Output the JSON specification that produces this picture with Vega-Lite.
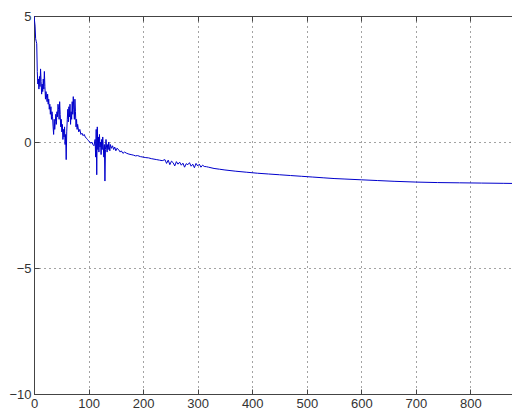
{
  "$schema": "https://vega.github.io/schema/vega-lite/v6.json",
  "autosize": {"type": "none"},
  "padding": {"left": 34, "top": 16, "right": 0, "bottom": 20},
  "width": 491,
  "height": 378,
  "background": "white",
  "config": {
    "view": {"stroke": "#555555", "strokeWidth": 1},
    "axis": {
      "labelFont": "Liberation Sans",
      "labelFontSize": 13,
      "labelColor": "#333333",
      "domainColor": "#444444",
      "tickColor": "#444444",
      "tickSize": -5,
      "gridColor": "#333333",
      "gridDash": [1, 4],
      "gridOpacity": 0.9,
      "title": null
    }
  },
  "data": {
    "values": [
      {"x": 0, "y": 5.0}, {"x": 2, "y": 4.6}, {"x": 3, "y": 4.1}, {"x": 4, "y": 4.0}, {"x": 5, "y": 3.9},
      {"x": 6, "y": 2.8}, {"x": 7, "y": 2.3}, {"x": 8, "y": 2.5}, {"x": 9, "y": 2.1}, {"x": 10, "y": 2.6},
      {"x": 11, "y": 2.2}, {"x": 12, "y": 2.9}, {"x": 13, "y": 2.4}, {"x": 14, "y": 1.9}, {"x": 15, "y": 2.3},
      {"x": 16, "y": 2.0}, {"x": 17, "y": 2.5}, {"x": 18, "y": 2.1}, {"x": 19, "y": 2.8}, {"x": 20, "y": 2.2},
      {"x": 21, "y": 1.7}, {"x": 22, "y": 2.0}, {"x": 24, "y": 1.6}, {"x": 25, "y": 1.9}, {"x": 26, "y": 1.5},
      {"x": 27, "y": 1.7}, {"x": 28, "y": 1.3}, {"x": 29, "y": 1.5}, {"x": 30, "y": 1.1}, {"x": 31, "y": 1.4},
      {"x": 32, "y": 0.9}, {"x": 33, "y": 1.2}, {"x": 34, "y": 1.0}, {"x": 35, "y": 0.6}, {"x": 36, "y": 0.3},
      {"x": 37, "y": 0.9}, {"x": 38, "y": 0.5}, {"x": 39, "y": 0.8}, {"x": 40, "y": 1.1}, {"x": 41, "y": 0.7},
      {"x": 42, "y": 1.2}, {"x": 43, "y": 1.0}, {"x": 44, "y": 1.5}, {"x": 45, "y": 1.3}, {"x": 46, "y": 0.9},
      {"x": 47, "y": 1.6}, {"x": 48, "y": 1.1}, {"x": 49, "y": 0.6}, {"x": 50, "y": 0.9}, {"x": 51, "y": 0.4},
      {"x": 52, "y": 0.7}, {"x": 53, "y": 0.1}, {"x": 54, "y": 0.5}, {"x": 55, "y": 0.2}, {"x": 56, "y": 0.6},
      {"x": 57, "y": -0.1}, {"x": 58, "y": 0.3}, {"x": 59, "y": -0.7}, {"x": 60, "y": 0.4}, {"x": 61, "y": 0.9},
      {"x": 62, "y": 1.3}, {"x": 63, "y": 0.8}, {"x": 64, "y": 1.4}, {"x": 65, "y": 1.0}, {"x": 66, "y": 1.5},
      {"x": 67, "y": 0.7}, {"x": 68, "y": 1.2}, {"x": 69, "y": 0.9}, {"x": 70, "y": 1.6}, {"x": 71, "y": 1.1},
      {"x": 72, "y": 1.8}, {"x": 73, "y": 1.3}, {"x": 74, "y": 0.9}, {"x": 75, "y": 1.7}, {"x": 76, "y": 1.2},
      {"x": 77, "y": 0.6}, {"x": 78, "y": 0.9}, {"x": 79, "y": 0.5}, {"x": 80, "y": 0.7}, {"x": 82, "y": 0.4},
      {"x": 84, "y": 0.5}, {"x": 86, "y": 0.3}, {"x": 88, "y": 0.35}, {"x": 90, "y": 0.25}, {"x": 92, "y": 0.3},
      {"x": 94, "y": 0.2}, {"x": 96, "y": 0.15}, {"x": 98, "y": 0.1}, {"x": 100, "y": 0.05}, {"x": 102, "y": 0.0},
      {"x": 104, "y": -0.05}, {"x": 106, "y": 0.0}, {"x": 108, "y": -0.1}, {"x": 110, "y": -0.15}, {"x": 112, "y": 0.1},
      {"x": 113, "y": -0.6}, {"x": 114, "y": 0.5}, {"x": 115, "y": -1.3}, {"x": 116, "y": 0.6}, {"x": 117, "y": -0.3},
      {"x": 118, "y": 0.2}, {"x": 119, "y": -0.4}, {"x": 120, "y": 0.3}, {"x": 121, "y": -0.2}, {"x": 122, "y": 0.0},
      {"x": 123, "y": -0.5}, {"x": 124, "y": 0.1}, {"x": 125, "y": -0.3}, {"x": 126, "y": 0.2}, {"x": 127, "y": -0.2},
      {"x": 128, "y": -0.6}, {"x": 129, "y": -0.1}, {"x": 130, "y": -1.55}, {"x": 131, "y": -0.3}, {"x": 132, "y": 0.1},
      {"x": 133, "y": -0.2}, {"x": 134, "y": -0.4}, {"x": 135, "y": -0.1}, {"x": 136, "y": -0.3}, {"x": 137, "y": 0.0},
      {"x": 138, "y": -0.2}, {"x": 139, "y": -0.35}, {"x": 140, "y": -0.1}, {"x": 142, "y": -0.25}, {"x": 144, "y": -0.15},
      {"x": 146, "y": -0.3}, {"x": 148, "y": -0.2}, {"x": 150, "y": -0.35}, {"x": 152, "y": -0.25}, {"x": 155, "y": -0.3},
      {"x": 158, "y": -0.4}, {"x": 160, "y": -0.35}, {"x": 163, "y": -0.45}, {"x": 166, "y": -0.4}, {"x": 170, "y": -0.45},
      {"x": 174, "y": -0.48}, {"x": 178, "y": -0.5}, {"x": 182, "y": -0.52}, {"x": 186, "y": -0.55}, {"x": 190, "y": -0.54},
      {"x": 195, "y": -0.58}, {"x": 200, "y": -0.6}, {"x": 205, "y": -0.62}, {"x": 210, "y": -0.63}, {"x": 215, "y": -0.66},
      {"x": 220, "y": -0.68}, {"x": 225, "y": -0.7}, {"x": 230, "y": -0.72}, {"x": 235, "y": -0.74}, {"x": 240, "y": -0.7},
      {"x": 243, "y": -0.85}, {"x": 246, "y": -0.72}, {"x": 249, "y": -0.9}, {"x": 252, "y": -0.76}, {"x": 255, "y": -0.82},
      {"x": 258, "y": -0.95}, {"x": 261, "y": -0.78}, {"x": 264, "y": -0.88}, {"x": 267, "y": -0.8}, {"x": 270, "y": -0.92},
      {"x": 273, "y": -0.84}, {"x": 276, "y": -1.0}, {"x": 279, "y": -0.86}, {"x": 282, "y": -0.9}, {"x": 285, "y": -0.82},
      {"x": 288, "y": -0.96}, {"x": 291, "y": -0.88}, {"x": 294, "y": -1.02}, {"x": 297, "y": -0.85}, {"x": 300, "y": -0.95},
      {"x": 303, "y": -0.88}, {"x": 306, "y": -1.0}, {"x": 309, "y": -0.92}, {"x": 312, "y": -0.97}, {"x": 316, "y": -0.98},
      {"x": 320, "y": -1.0}, {"x": 330, "y": -1.05}, {"x": 340, "y": -1.08}, {"x": 350, "y": -1.11}, {"x": 370, "y": -1.16},
      {"x": 390, "y": -1.2}, {"x": 410, "y": -1.24}, {"x": 430, "y": -1.27}, {"x": 450, "y": -1.3}, {"x": 470, "y": -1.33},
      {"x": 490, "y": -1.36}, {"x": 510, "y": -1.39}, {"x": 530, "y": -1.42}, {"x": 550, "y": -1.45}, {"x": 570, "y": -1.47},
      {"x": 600, "y": -1.5}, {"x": 630, "y": -1.53}, {"x": 660, "y": -1.56}, {"x": 700, "y": -1.59}, {"x": 740, "y": -1.61},
      {"x": 780, "y": -1.62}, {"x": 820, "y": -1.63}, {"x": 860, "y": -1.64}, {"x": 900, "y": -1.65}
    ]
  },
  "layer": [
    {
      "mark": {"type": "line", "color": "#0000cc", "strokeWidth": 1, "clip": true},
      "encoding": {
        "x": {
          "field": "x", "type": "quantitative",
          "scale": {"domain": [0, 900], "nice": false, "zero": false},
          "axis": {"values": [0, 100, 200, 300, 400, 500, 600, 700, 800], "grid": true, "labelPadding": 8, "labelFlush": false}
        },
        "y": {
          "field": "y", "type": "quantitative",
          "scale": {"domain": [-10, 5], "nice": false, "zero": false},
          "axis": {"values": [-10, -5, 0, 5], "grid": true, "labelPadding": 8}
        }
      }
    },
    {
      "mark": {"type": "line", "opacity": 0},
      "encoding": {
        "x": {
          "field": "x", "type": "quantitative",
          "axis": {"orient": "top", "values": [0, 100, 200, 300, 400, 500, 600, 700, 800], "labels": false, "grid": false}
        },
        "y": {"field": "y", "type": "quantitative"}
      }
    }
  ],
  "resolve": {"axis": {"x": "independent"}}
}
